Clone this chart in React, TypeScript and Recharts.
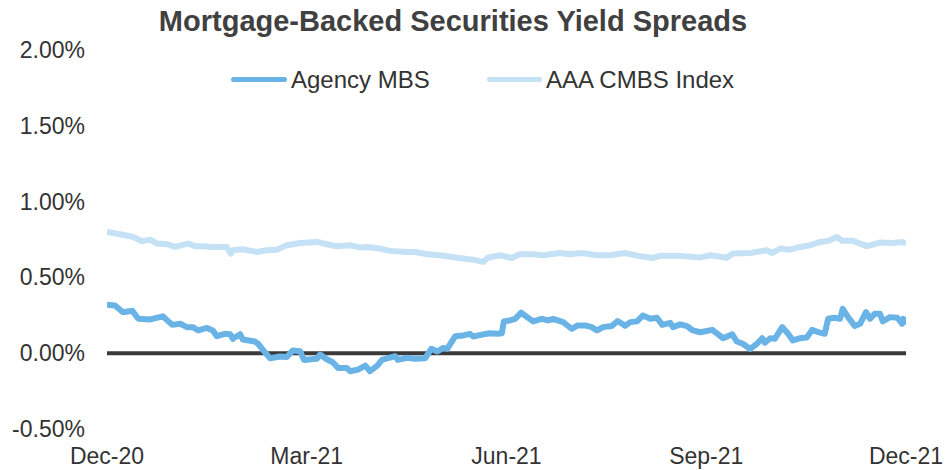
import { LineChart, Line, XAxis, YAxis, ReferenceLine } from "recharts";

const FONT = "'Liberation Sans', Arial, sans-serif";
const TEXT = "#333333";
const AGENCY_COLOR = "#69B3E7";
const CMBS_COLOR = "#C4E1F6";

// x positions are months since Dec-20 (0 = Dec-20, 12 = Dec-21)
const agencyMonths = [
  0.0, 0.12, 0.24, 0.38, 0.47, 0.65, 0.84, 0.98, 1.1, 1.2, 1.29, 1.37, 1.5, 1.59, 1.65, 1.77, 1.85, 1.89, 2.0,
  2.04, 2.22, 2.27, 2.37, 2.45, 2.6, 2.7, 2.79, 2.9, 2.96, 3.15, 3.2, 3.3, 3.39, 3.47, 3.6, 3.65, 3.77, 3.88,
  3.95, 4.06, 4.13, 4.22, 4.33, 4.37, 4.51, 4.63, 4.78, 4.87, 4.96, 5.05, 5.11, 5.23, 5.35, 5.45, 5.5, 5.65,
  5.75, 5.86, 5.93, 5.96, 6.05, 6.13, 6.22, 6.31, 6.4, 6.53, 6.62, 6.7, 6.85, 6.92, 6.98, 7.07, 7.18, 7.28,
  7.36, 7.45, 7.58, 7.67, 7.78, 7.86, 7.96, 8.05, 8.16, 8.26, 8.34, 8.46, 8.5, 8.61, 8.71, 8.8, 8.91, 9.09,
  9.18, 9.25, 9.39, 9.46, 9.55, 9.66, 9.76, 9.84, 9.88, 9.96, 10.03, 10.14, 10.23, 10.3, 10.41, 10.51, 10.59,
  10.68, 10.78, 10.83, 10.93, 11.01, 11.05, 11.13, 11.23, 11.31, 11.4, 11.46, 11.53, 11.61, 11.65, 11.76,
  11.87, 11.94, 11.96, 12.0,
];
const agencyValues = [
  0.32, 0.315, 0.27, 0.28, 0.227, 0.223, 0.243, 0.187, 0.194, 0.172, 0.172, 0.15, 0.167, 0.15, 0.112, 0.128,
  0.125, 0.095, 0.125, 0.09, 0.077, 0.062, 0.007, -0.033, -0.022, -0.025, 0.018, 0.013, -0.045, -0.037,
  -0.009, -0.04, -0.06, -0.097, -0.097, -0.119, -0.108, -0.082, -0.119, -0.082, -0.044, -0.033, -0.02,
  -0.044, -0.03, -0.037, -0.033, 0.029, 0.011, 0.035, 0.029, 0.112, 0.117, 0.128, 0.11, 0.124, 0.132, 0.128,
  0.132, 0.21, 0.216, 0.227, 0.267, 0.238, 0.21, 0.227, 0.216, 0.227, 0.205, 0.181, 0.161, 0.183, 0.183,
  0.172, 0.15, 0.172, 0.179, 0.212, 0.181, 0.205, 0.21, 0.249, 0.227, 0.234, 0.187, 0.2, 0.172, 0.19, 0.179,
  0.15, 0.138, 0.154, 0.124, 0.099, 0.124, 0.077, 0.062, 0.028, 0.062, 0.099, 0.07, 0.099, 0.095, 0.172,
  0.128, 0.084, 0.099, 0.104, 0.154, 0.139, 0.128, 0.227, 0.234, 0.227, 0.293, 0.238, 0.179, 0.194, 0.271,
  0.227, 0.26, 0.26, 0.21, 0.238, 0.234, 0.194, 0.227, 0.19,
];

const cmbsMonths = [
  0, 0.2, 0.39, 0.53, 0.65, 0.75, 0.9, 1.02, 1.22, 1.32, 1.44, 1.59, 1.8, 1.86, 1.89, 2.04, 2.25, 2.4, 2.55,
  2.7, 2.9, 3.15, 3.3, 3.45, 3.65, 3.8, 3.91, 4.1, 4.25, 4.51, 4.63, 4.81, 5.0, 5.26, 5.5, 5.65, 5.72, 5.9,
  6.08, 6.2, 6.4, 6.55, 6.8, 6.95, 7.13, 7.36, 7.55, 7.78, 8.01, 8.19, 8.31, 8.61, 8.91, 9.06, 9.31, 9.4,
  9.66, 9.91, 9.99, 10.11, 10.26, 10.41, 10.56, 10.71, 10.83, 10.96, 11.04, 11.2, 11.41, 11.61, 11.8, 11.94,
  12.0,
];
const cmbsValues = [
  0.8, 0.785, 0.767, 0.739, 0.749, 0.723, 0.719, 0.701, 0.723, 0.705, 0.706, 0.701, 0.701, 0.657, 0.679,
  0.686, 0.668, 0.679, 0.683, 0.712, 0.727, 0.734, 0.719, 0.705, 0.712, 0.698, 0.701, 0.69, 0.675, 0.668,
  0.668, 0.653, 0.646, 0.63, 0.617, 0.602, 0.63, 0.646, 0.628, 0.653, 0.653, 0.646, 0.661, 0.653, 0.661,
  0.646, 0.646, 0.661, 0.639, 0.628, 0.642, 0.642, 0.632, 0.646, 0.63, 0.657, 0.661, 0.679, 0.661, 0.69,
  0.683, 0.701, 0.712, 0.734, 0.741, 0.767, 0.741, 0.741, 0.706, 0.73, 0.727, 0.734, 0.723,
];

const xTicks = [0, 3, 6, 9, 12];
const xTickLabels = ["Dec-20", "Mar-21", "Jun-21", "Sep-21", "Dec-21"];
const yTicks = [-0.5, 0, 0.5, 1, 1.5, 2];

const agencyData = agencyMonths.map((m, i) => ({ m, v: agencyValues[i] }));
const cmbsData = cmbsMonths.map((m, i) => ({ m, v: cmbsValues[i] }));

const YTick = ({ y, payload }: any) => (
  <text x={85} y={y} dy={8} textAnchor="end" fontSize={23} fill={TEXT} fontFamily={FONT}>
    {payload.value.toFixed(2)}%
  </text>
);

const XTick = ({ x, payload }: any) => (
  <text x={x} y={464} textAnchor="middle" fontSize={23} fill={TEXT} fontFamily={FONT}>
    {xTickLabels[xTicks.indexOf(payload.value)]}
  </text>
);

// legend drawn as plain html on top of the plot, so it doesn't shrink the plot area
const ChartLegend = () => (
  <div style={{ position: "absolute", left: 0, top: 66, width: 945, height: 30, fontFamily: FONT, fontSize: 24, color: TEXT }}>
    <div style={{ position: "absolute", left: 231, top: 11, width: 56, height: 5, background: AGENCY_COLOR, borderRadius: 3 }} />
    <div style={{ position: "absolute", left: 291, top: 0, lineHeight: "28px" }}>Agency MBS</div>
    <div style={{ position: "absolute", left: 487, top: 11, width: 55, height: 5, background: CMBS_COLOR, borderRadius: 3 }} />
    <div style={{ position: "absolute", left: 546, top: 0, lineHeight: "28px" }}>AAA CMBS Index</div>
  </div>
);

export default function App() {
  return (
    <div style={{ position: "absolute", left: 0, top: 0, width: 945, height: 470, background: "#fff" }}>
      <div
        style={{
          position: "absolute",
          top: 4,
          left: 0,
          width: 906,
          textAlign: "center",
          fontFamily: FONT,
          fontWeight: "bold",
          fontSize: 29,
          lineHeight: "34px",
          color: "#404040",
        }}
      >
        Mortgage-Backed Securities Yield Spreads
      </div>
      <LineChart width={945} height={470} margin={{ top: 50, right: 39, left: 0, bottom: 0 }}>
        <XAxis
          type="number"
          dataKey="m"
          domain={[0, 12]}
          ticks={xTicks}
          tick={<XTick />}
          axisLine={false}
          tickLine={false}
          height={41}
          allowDataOverflow
        />
        <YAxis
          type="number"
          domain={[-0.5, 2]}
          ticks={yTicks}
          tick={<YTick />}
          axisLine={false}
          tickLine={false}
          width={107}
          allowDataOverflow
        />
        <ReferenceLine y={0} stroke="#3a3a3a" strokeWidth={4} />
        <Line
          data={cmbsData}
          dataKey="v"
          name="AAA CMBS Index"
          stroke={CMBS_COLOR}
          strokeWidth={6}
          dot={false}
          strokeLinejoin="round"
          isAnimationActive={false}
        />
        <Line
          data={agencyData}
          dataKey="v"
          name="Agency MBS"
          stroke={AGENCY_COLOR}
          strokeWidth={6}
          dot={false}
          strokeLinejoin="round"
          isAnimationActive={false}
        />
      </LineChart>
      <ChartLegend />
    </div>
  );
}
